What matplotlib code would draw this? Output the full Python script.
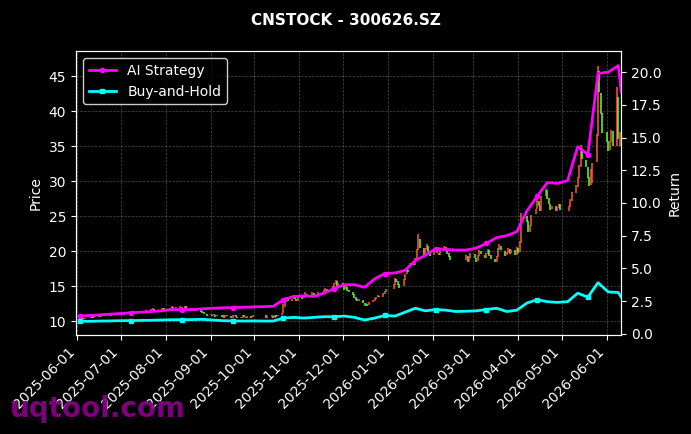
import numpy as np
import pandas as pd
import matplotlib
matplotlib.use("Agg")
import matplotlib.pyplot as plt
import matplotlib.dates as mdates

# trading calendar (SZSE holidays removed)
holidays = pd.to_datetime([
    "2025-10-01", "2025-10-02", "2025-10-03", "2025-10-06", "2025-10-07", "2025-10-08",
    "2026-01-01", "2026-01-02",
    "2026-02-16", "2026-02-17", "2026-02-18", "2026-02-19", "2026-02-20", "2026-02-23",
    "2026-04-06", "2026-05-01", "2026-05-04", "2026-05-05",
])
trade_days = pd.bdate_range("2025-06-03", "2026-06-10")
trade_days = trade_days[~trade_days.isin(holidays)]

# daily open / close, one row per week
opens = [
    10.3, 10.4, 10.5, 10.3,
    10.5, 10.4, 10.5, 10.7, 10.6,
    10.7, 10.6, 10.7, 10.9, 10.7,
    10.8, 10.9, 10.8, 10.9, 11.0,
    10.9, 11.0, 11.1, 10.9, 11.0,
    11.1, 11.2, 11.0, 11.2, 11.3,
    11.1, 11.2, 11.4, 11.2, 11.3,
    11.5, 11.4, 11.6, 11.7, 11.5,
    11.6, 11.5, 11.7, 11.8, 11.6,
    11.7, 11.8, 12.0, 11.8, 11.9,
    11.9, 12.0, 11.8, 11.9, 12.1,
    11.9, 11.8, 11.6, 11.8, 11.5,
    11.6, 11.5, 11.3, 11.2, 11.0,
    10.8, 10.9, 11.0, 10.8, 10.7,
    10.8, 10.9, 10.8, 10.6, 10.8,
    10.7, 10.5, 10.7, 10.9, 10.6,
    10.4, 10.5, 10.8, 10.6, 10.5,
    10.7, 10.6,
    10.8, 10.5,
    10.6, 10.7, 10.5, 10.8, 10.7,
    10.9, 11.1, 12.0, 12.7, 13.2,
    12.8, 13.1, 13.6, 13.2, 12.9,
    13.4, 13.3, 13.6, 13.9, 13.5,
    13.7, 14.0, 13.8, 13.5, 13.8,
    14.2, 14.0, 14.3, 14.6, 14.2,
    14.5, 14.9, 15.3, 15.7, 15.0,
    15.4, 15.1, 14.6, 14.9, 14.5,
    14.2, 13.9, 13.4, 13.2, 12.9,
    13.0, 12.6, 12.3, 12.5, 12.3,
    12.7, 12.9, 13.2, 13.4, 13.6,
    13.4, 13.9, 14.2,
    14.6, 15.2, 16.0, 15.8, 15.3,
    15.0, 15.9, 16.7, 17.3, 17.8,
    18.2, 18.0, 18.9, 20.1, 21.8,
    20.4, 19.6, 20.2, 20.8, 20.0,
    19.4, 19.9, 20.4, 19.8, 19.5,
    20.0, 20.6, 20.2, 19.8, 19.3,
    18.8, 19.3, 18.6, 19.0,
    19.6, 19.0, 18.6, 19.3, 20.0,
    19.5, 19.0, 19.6, 20.1, 19.4,
    18.9, 18.4, 19.2, 20.2, 20.8,
    20.0, 19.4, 19.8, 20.3, 19.7,
    20.1, 19.4, 20.5, 19.9, 21.2,
    25.0, 24.3, 22.8, 23.6,
    25.3, 26.0, 27.2, 26.5, 25.8,
    27.9, 28.8, 27.6, 26.8, 26.0,
    26.4, 25.8, 26.2, 26.7,
    25.8, 26.3, 27.2,
    28.3, 29.2, 30.4, 32.0, 34.8,
    33.1, 32.0, 30.6, 29.5, 29.8,
    32.8, 36.5, 45.8, 42.6, 39.8,
    37.0, 35.8, 34.4, 35.6, 37.2,
    35.0, 42.0, 35.0,
]
closes = [
    10.4, 10.6, 10.3, 10.5,
    10.4, 10.6, 10.8, 10.5, 10.7,
    10.6, 10.8, 10.9, 10.7, 10.8,
    10.9, 10.7, 10.9, 11.1, 10.9,
    11.0, 11.2, 10.9, 11.1, 11.2,
    11.3, 11.0, 11.2, 11.4, 11.1,
    11.3, 11.5, 11.2, 11.4, 11.6,
    11.4, 11.7, 11.8, 11.5, 11.6,
    11.5, 11.8, 11.9, 11.6, 11.7,
    11.9, 12.1, 11.8, 11.9, 12.0,
    12.1, 11.8, 11.9, 12.2, 11.9,
    11.7, 11.5, 11.9, 11.4, 11.6,
    11.3, 11.2, 11.0, 11.1, 10.7,
    11.0, 10.7, 10.8, 10.6, 10.9,
    10.9, 10.6, 10.5, 10.8, 10.7,
    10.5, 10.8, 10.9, 10.6, 10.4,
    10.6, 10.9, 10.6, 10.4, 10.7,
    10.5, 10.9,
    10.5, 10.7,
    10.8, 10.4, 10.8, 10.6, 10.9,
    11.1, 12.4, 12.9, 13.4, 12.8,
    13.2, 13.7, 13.1, 12.8, 13.4,
    13.2, 13.8, 14.1, 13.4, 13.7,
    14.1, 13.7, 13.4, 13.9, 14.2,
    14.0, 14.4, 14.8, 14.1, 14.5,
    15.0, 15.5, 15.9, 14.9, 15.4,
    15.0, 14.5, 15.0, 14.3, 14.2,
    13.8, 13.3, 13.0, 12.8, 13.1,
    12.6, 12.2, 12.6, 12.2, 12.7,
    13.0, 13.3, 13.5, 13.8, 13.4,
    14.0, 14.3, 14.6,
    15.3, 16.1, 15.6, 15.1, 14.8,
    16.0, 16.8, 17.5, 17.0, 18.3,
    18.0, 19.0, 20.3, 22.4, 20.5,
    19.5, 20.4, 21.0, 19.9, 19.3,
    20.0, 20.5, 19.7, 19.4, 20.1,
    20.7, 20.1, 19.6, 19.2, 18.7,
    19.5, 18.5, 19.1, 19.7,
    19.0, 18.5, 19.4, 20.2, 19.6,
    19.0, 19.7, 20.3, 19.3, 18.9,
    18.4, 19.3, 20.4, 21.0, 20.1,
    19.3, 19.9, 20.4, 19.6, 20.2,
    19.5, 20.6, 19.8, 21.4, 25.5,
    24.2, 22.7, 23.8, 25.2,
    26.1, 27.4, 26.4, 25.7, 27.9,
    28.9, 27.5, 26.7, 25.9, 26.4,
    25.7, 26.3, 26.8, 25.9,
    26.5, 27.4, 28.4,
    29.4, 30.6, 32.3, 35.2, 33.2,
    32.1, 30.4, 29.3, 31.8, 32.6,
    36.8, 46.5, 42.8, 39.6, 36.9,
    35.6, 34.3, 35.8, 37.4, 35.1,
    43.5, 36.0, 37.0,
]
assert len(opens) == len(closes) == len(trade_days)

# weekly strategy curves (return multiple)
line_dates = list(pd.date_range("2025-06-03", periods=54, freq="7D")) + [pd.Timestamp("2026-06-11")]
ai_return = [
    1.35, 1.40, 1.45, 1.50, 1.55, 1.60, 1.65, 1.70, 1.75, 1.85,
    1.85, 1.85, 1.90, 1.95, 1.98, 2.00, 2.02, 2.05, 2.07, 2.10,
    2.60, 2.85, 2.90, 2.85, 3.10, 3.45, 3.75, 3.75, 3.55, 4.20,
    4.60, 4.65, 4.85, 5.60, 6.00, 6.50, 6.45, 6.40, 6.40, 6.55,
    6.90, 7.35, 7.50, 7.80, 9.40, 10.50, 11.55, 11.50, 11.70, 14.30,
    13.70, 19.90, 20.00, 20.50, 18.50,
]
bh_return = [
    0.95, 0.95, 0.97, 0.98, 1.00, 1.00, 1.02, 1.03, 1.05, 1.07,
    1.07, 1.08, 1.10, 1.05, 1.00, 0.98, 0.97, 0.98, 0.97, 0.97,
    1.20, 1.25, 1.20, 1.25, 1.30, 1.30, 1.35, 1.25, 1.05, 1.20,
    1.40, 1.35, 1.65, 1.95, 1.75, 1.85, 1.80, 1.70, 1.72, 1.75,
    1.85, 1.95, 1.70, 1.80, 2.35, 2.60, 2.45, 2.40, 2.45, 3.10,
    2.80, 3.90, 3.20, 3.15, 2.80,
]

up_color = "#ff5a3c"
down_color = "#66ff33"

fig = plt.figure(figsize=(6.91, 4.34), dpi=100, facecolor="black")
ax = fig.add_axes([0.110, 0.228, 0.789, 0.654], facecolor="black")
ax2 = ax.twinx()

o = np.array(opens)
c = np.array(closes)
colors = np.where(c >= o, up_color, down_color)
ax.vlines(trade_days, np.minimum(o, c), np.maximum(o, c), colors=colors, linewidth=1.1, zorder=2)

ax2.plot(line_dates, ai_return, color="magenta", linewidth=2, marker="o", markersize=3,
         markevery=5, label="AI Strategy")
ax2.plot(line_dates, bh_return, color="cyan", linewidth=2, marker="s", markersize=3,
         markevery=5, label="Buy-and-Hold")

ax.set_xlim(pd.Timestamp("2025-05-31"), pd.Timestamp("2026-06-11"))
ax.set_ylim(8, 48.6)
ax2.set_ylim(-0.1, 21.6)
ax2.set_yticks(np.arange(0, 20.1, 2.5))

ax.xaxis.set_major_locator(mdates.MonthLocator())
ax.xaxis.set_major_formatter(mdates.DateFormatter("%Y-%m-%d"))
plt.setp(ax.get_xticklabels(), rotation=45, ha="right", rotation_mode="default")

for a in (ax, ax2):
    a.tick_params(colors="white", labelsize=10)
    for sp in a.spines.values():
        sp.set_color("white")
ax.grid(True, color="gray", linestyle="--", linewidth=0.5, alpha=0.6)
ax.set_ylabel("Price", color="white", fontsize=10)
ax2.set_ylabel("Return", color="white", fontsize=10)

leg = ax2.legend(loc="upper left", facecolor="black", edgecolor="white", fontsize=10)
for t in leg.get_texts():
    t.set_color("white")

fig.suptitle("CNSTOCK - 300626.SZ", color="white", fontsize=11, fontweight="bold", y=0.97)
fig.text(0.014, 0.04, "uqtool.com", color="#8b008b", fontsize=20, fontweight="bold",
         alpha=0.9, zorder=10)

fig.savefig("out.png", dpi=100, facecolor="black")
